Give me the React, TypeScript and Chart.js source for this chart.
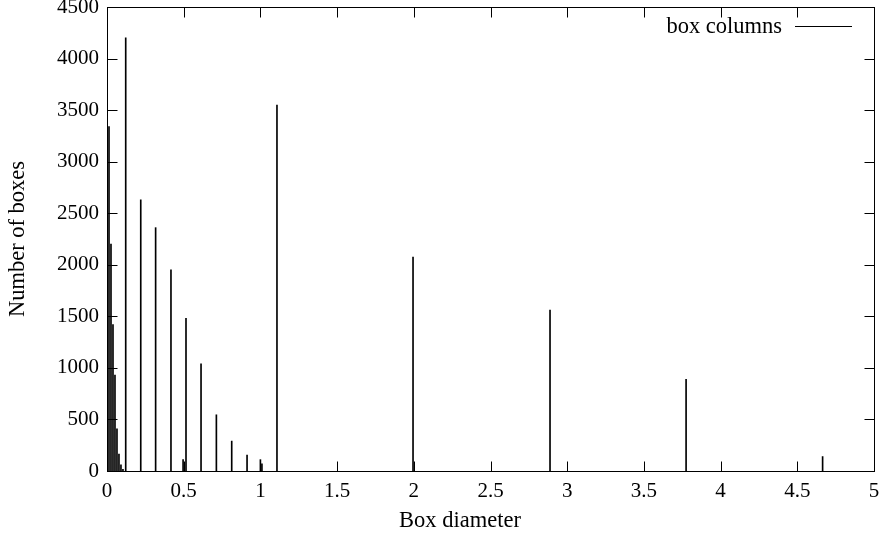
import React, { useEffect, useRef } from "react";
import { Chart, registerables } from "chart.js";

Chart.register(...registerables);

// Box diameters (x) and number of boxes (y)
const boxDiameters = [
  0.013, 0.026, 0.039, 0.052, 0.065, 0.078, 0.091, 0.104,
  0.122, 0.22, 0.317, 0.417, 0.496, 0.515, 0.613, 0.713, 0.813, 0.913, 1.0, 1.01,
  1.108, 1.995, 2.888, 3.775, 4.665,
];
const boxCounts = [
  3340, 2200, 1420, 930, 410, 165, 60, 15,
  4200, 2630, 2360, 1950, 110, 1480, 1040, 545, 290, 155, 110, 70,
  3550, 2075, 1560, 890, 140,
];
const seriesLabel = "box columns";
const xTitle = "Box diameter";
const yTitle = "Number of boxes";
const xTicks = [0, 0.5, 1, 1.5, 2, 2.5, 3, 3.5, 4, 4.5, 5];
const yTicks = [0, 500, 1000, 1500, 2000, 2500, 3000, 3500, 4000, 4500];

const FAMILY = '"Liberation Serif", "Times New Roman", serif';
const TICK_FONT = { family: FAMILY, size: 21 };
const TEXT_FONT = { family: FAMILY, size: 22.5 };

const framePlugin = {
  id: "gnuplotFrame",
  afterDraw(chart: any) {
    const { ctx, chartArea } = chart;
    const xs = chart.scales.x;
    const ys = chart.scales.y;
    const L = Math.round(chartArea.left) + 0.5;
    const R = Math.round(chartArea.right) + 0.5;
    const T = Math.round(chartArea.top) + 0.5;
    const B = Math.round(chartArea.bottom) + 0.5;
    ctx.save();
    ctx.strokeStyle = "#000";
    ctx.lineWidth = 1;
    ctx.strokeRect(L, T, R - L, B - T);
    const tl = 10;
    ctx.beginPath();
    for (const v of xTicks) {
      const px = Math.round(xs.getPixelForValue(v)) + 0.5;
      ctx.moveTo(px, B);
      ctx.lineTo(px, B - tl);
      ctx.moveTo(px, T);
      ctx.lineTo(px, T + tl);
    }
    for (const v of yTicks) {
      const py = Math.round(ys.getPixelForValue(v)) + 0.5;
      ctx.moveTo(L, py);
      ctx.lineTo(L + tl, py);
      ctx.moveTo(R, py);
      ctx.lineTo(R - tl, py);
    }
    ctx.stroke();
    ctx.font = `${TEXT_FONT.size}px ${FAMILY}`;
    ctx.fillStyle = "#000";
    // x axis title
    ctx.textAlign = "center";
    ctx.textBaseline = "alphabetic";
    ctx.fillText(xTitle, 460, 527);
    // legend
    ctx.textAlign = "right";
    ctx.textBaseline = "middle";
    ctx.fillText(seriesLabel, 782, 27);
    ctx.beginPath();
    ctx.moveTo(795, 26.5);
    ctx.lineTo(852, 26.5);
    ctx.stroke();
    ctx.restore();
  },
};

export default function App() {
  const ref = useRef<HTMLCanvasElement | null>(null);
  useEffect(() => {
    document.body.style.margin = "0";
    const canvas = ref.current;
    if (!canvas) return;
    const data = boxDiameters.map((x, i) => ({ x, y: boxCounts[i] }));
    const chart = new Chart(canvas, {
      type: "bar",
      data: {
        datasets: [
          {
            label: seriesLabel,
            data,
            backgroundColor: "#000",
            borderWidth: 0,
            barThickness: 1,
          } as any,
        ],
      },
      options: {
        animation: false,
        responsive: false,
        maintainAspectRatio: false,
        layout: { padding: { top: 7, right: 12, left: 0, bottom: 0 } },
        plugins: { legend: { display: false }, tooltip: { enabled: false } },
        scales: {
          x: {
            type: "linear",
            min: 0,
            max: 5,
            offset: false,
            grid: { display: false, drawTicks: false },
            border: { display: false },
            ticks: {
              stepSize: 0.5,
              color: "#000",
              font: TICK_FONT,
              padding: 8,
              maxRotation: 0,
              autoSkip: false,
              callback: (v: any) => String(v),
            },
            title: { display: false },
            afterFit: (s: any) => {
              s.height = 66;
              s.paddingLeft = 0;
              s.paddingRight = 0;
            },
          },
          y: {
            type: "linear",
            min: 0,
            max: 4500,
            grid: { display: false, drawTicks: false },
            border: { display: false },
            ticks: {
              stepSize: 500,
              color: "#000",
              font: TICK_FONT,
              padding: 8,
              autoSkip: false,
              callback: (v: any) => String(v),
            },
            title: {
              display: true,
              text: yTitle,
              color: "#000",
              font: TEXT_FONT,
              padding: { top: 5, bottom: 0 },
            },
            afterFit: (s: any) => {
              s.width = 107;
              s.paddingTop = 0;
              s.paddingBottom = 0;
            },
          },
        },
      },
      plugins: [framePlugin],
    });
    return () => chart.destroy();
  }, []);
  return (
    <div style={{ width: 886, height: 537 }}>
      <canvas ref={ref} width={886} height={537} style={{ display: "block" }} />
    </div>
  );
}
